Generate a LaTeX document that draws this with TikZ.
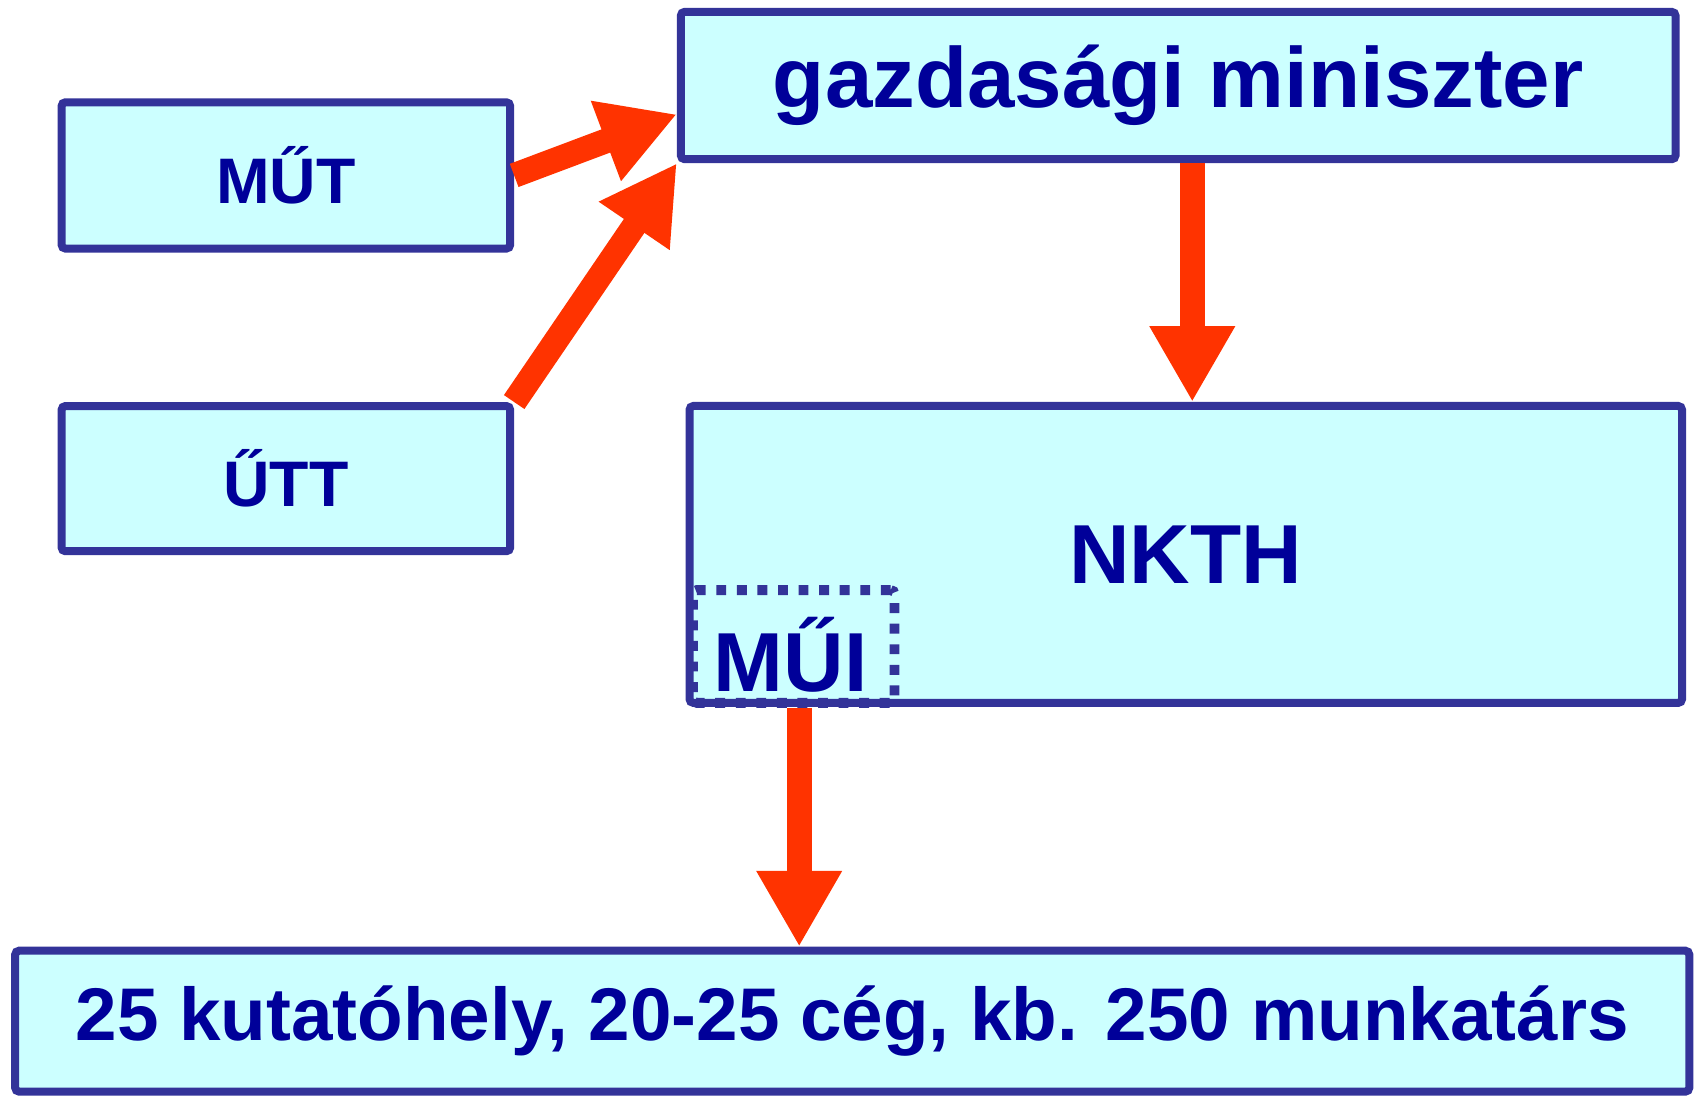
\documentclass[tikz,border=0pt]{standalone}
\usepackage{fontspec}
\setmainfont{Liberation Sans}
\usepackage{tikz}
\usetikzlibrary{arrows.meta,calc}
\definecolor{boxblue}{RGB}{51,51,153}
\definecolor{boxfill}{RGB}{204,255,255}
\definecolor{textblue}{RGB}{0,0,153}
\definecolor{arrowred}{RGB}{255,51,0}
\tikzset{box/.style={draw=boxblue,fill=boxfill,line width=2.1pt,rounded corners=1pt,text=textblue,inner sep=0pt}}
\tikzset{bigarrow/.style={draw=arrowred,line width=6.5pt,-{Triangle[width=0.74cm,length=0.7cm]}}}

\begin{document}
\begin{tikzpicture}
[x=0.01cm, y=-0.01cm, fontA/.style={font=\fontsize{16.9}{20}\selectfont\bfseries}, fontB/.style={font=\fontsize{22.4}{26}\selectfont\bfseries}, fontC/.style={font=\fontsize{22}{26}\selectfont\bfseries}, fontD/.style={font=\fontsize{19.6}{23}\selectfont\bfseries}]
\useasboundingbox (0,0) rectangle (1568,1013);
\node (mut) at (264,162)[box,fontA,minimum width=4.14cm,minimum height=1.35cm]{MŰT};
\node (utt) at (264,442)[box,fontA,minimum width=4.14cm,minimum height=1.34cm]{ŰTT};
\node (miniszter) at (1088,79)[box,fontB,minimum width=9.18cm,minimum height=1.36cm]{gazdasági miniszter};
\node (nkth) at (1095,512)[box,fontC,minimum width=9.16cm,minimum height=2.74cm]{NKTH};
\node (mui) at (733,597)[box,fontC,fill=none,line width=2.6pt,dash pattern=on 2.6pt off 2.8pt,minimum width=1.86cm,minimum height=1.04cm]{};
\node (muitext) at (730,605)[text=textblue,fontC]{MŰI};
\node (kutato) at (787,943)[box,fontD,minimum width=15.45cm,minimum height=1.30cm]{25 kutatóhely, 20-25 cég, kb. 250 munkatárs\hspace{0.22cm}};

\draw[bigarrow] (mut.east) -- ($(miniszter.west)!0.37!(miniszter.south west)$);
\draw[bigarrow] (utt.north east) -- (miniszter.south west);
\draw[bigarrow] ([xshift=0.06cm]miniszter.south -| nkth.north) -- ([xshift=0.06cm]nkth.north);
\draw[bigarrow] ([xshift=0.05cm]mui.south) -- ([xshift=0.05cm]mui.south |- kutato.north);
\end{tikzpicture}
\end{document}
